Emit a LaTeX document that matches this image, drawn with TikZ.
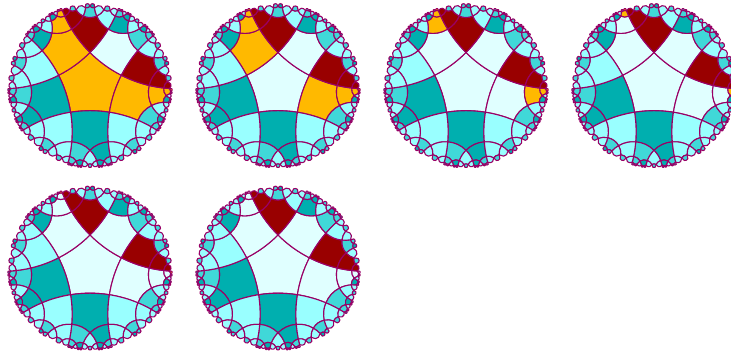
\documentclass[tikz,border=0pt]{standalone}
\usepackage{xfp}
\makeatletter
\def\R{83}
\def\Dmax{4}
\newcount\tn \tn=0
\let\mv\relax \let\cv\relax \let\tile\relax
\def\setv#1#2#3#4{\expandafter\edef\csname X@#1@#2\endcsname{#3}\expandafter\edef\csname Y@#1@#2\endcsname{#4}}
\def\gx#1#2{\csname X@#1@#2\endcsname}
\def\gy#1#2{\csname Y@#1@#2\endcsname}
% son tables: state, offset of the side from the last letter -> state of the son
\def\sontab#1#2#3{\expandafter\def\csname son@#1@#2\endcsname{#3}}
\sontab R0T\sontab R1T\sontab R2T\sontab R3T\sontab R4T
\sontab T1L\sontab T2T\sontab T3Q
\sontab L1L\sontab L2Q\sontab L3M
\sontab Q2Q\sontab Q3U
\sontab U4M\sontab U3U\sontab U2Q
\sontab M4M\sontab M3Q\sontab M2L
\def\refl#1{%
 \ifnum#1=\ei \setv{\nw}{#1}{\gx{\w}{#1}}{\gy{\w}{#1}}\else
 \ifnum#1=\ej \setv{\nw}{#1}{\gx{\w}{#1}}{\gy{\w}{#1}}\else
  \edef\zx{\gx{\w}{#1}}\edef\zy{\gy{\w}{#1}}%
  \edef\dd{\fpeval{\rr/((\zx-\cx)^2+(\zy-\cy)^2)}}%
  \setv{\nw}{#1}{\fpeval{\cx+\dd*(\zx-\cx)}}{\fpeval{\cy+\dd*(\zy-\cy)}}%
 \fi\fi}
\def\edge#1#2{%
 \def\ei{#1}\def\ej{#2}%
 \edef\ax{\gx{\w}{#1}}\edef\ay{\gy{\w}{#1}}\edef\bx{\gx{\w}{#2}}\edef\by{\gy{\w}{#2}}%
 \edef\AA{\fpeval{(\ax*\ax+\ay*\ay+1)/2}}\edef\BB{\fpeval{(\bx*\bx+\by*\by+1)/2}}%
 \edef\dt{\fpeval{\ax*\by-\ay*\bx}}%
 \edef\cx{\fpeval{(\AA*\by-\BB*\ay)/\dt}}\edef\cy{\fpeval{(\ax*\BB-\bx*\AA)/\dt}}%
 \edef\rr{\fpeval{\cx*\cx+\cy*\cy-1}}%
 \edef\mx{\fpeval{(\ax+\bx)/2}}\edef\my{\fpeval{(\ay+\by)/2}}%
 \edef\dd{\fpeval{\rr/((\mx-\cx)^2+(\my-\cy)^2)}}%
 \edef\px{\fpeval{\cx+\dd*(\mx-\cx)}}\edef\py{\fpeval{\cy+\dd*(\my-\cy)}}%
 \edef\pth{\pth\cv{\fpeval{round(\R*(\ax+2*(\px-\ax)/3),3)}}{\fpeval{round(\R*(\ay+2*(\py-\ay)/3),3)}}{\fpeval{round(\R*(\bx+2*(\px-\bx)/3),3)}}{\fpeval{round(\R*(\by+2*(\py-\by)/3),3)}}{\fpeval{round(\R*\bx,3)}}{\fpeval{round(\R*\by,3)}}}%
 \ifnum\dep<\Dmax\relax
 \edef\off{\the\numexpr#1-\lastj+5\relax}%
 \offmod
 \ifcsname son@\st @\off\endcsname
   \edef\nw{\w#1}%
   \refl0\refl1\refl2\refl3\refl4%
   \edef\nd{\the\numexpr\dep+1\relax}%
   \edef\tmp{\unexpanded\expandafter{\nxtq}\noexpand\proc{\nw}{\csname son@\st @\off\endcsname}{#1}{\nd}}%
   \let\nxtq\tmp
 \fi
 \fi}
\def\offmod{\ifnum\off>4 \edef\off{\the\numexpr\off-5\relax}\fi}
\def\proc#1#2#3#4{%
 \def\w{#1}\def\st{#2}\def\lastj{#3}\def\dep{#4}%
 \edef\pth{\mv{\fpeval{round(\R*\gx{\w}{0},3)}}{\fpeval{round(\R*\gy{\w}{0},3)}}}%
 \edge01\edge12\edge23\edge34\edge40%
 \global\advance\tn by 1
 \expandafter\xdef\csname tile@\the\tn\endcsname{\tile{#1}{#2}{\pth}}%
}
\def\initv#1{\setv{}{#1}{\fpeval{0.39797*cosd(90+72*#1)}}{\fpeval{0.39797*sind(90+72*#1)}}}
\initv0\initv1\initv2\initv3\initv4
\let\nxtq\empty
\def\curq{\proc{}{R}{0}{0}}
\def\runlevels{\ifx\curq\empty\else\let\nxtq\empty\curq\let\curq\nxtq\expandafter\runlevels\fi}
\runlevels
\def\mv#1#2{\pgfpathmoveto{\pgfqpoint{#1pt}{#2pt}}}
\def\cv#1#2#3#4#5#6{\pgfpathcurveto{\pgfqpoint{#1pt}{#2pt}}{\pgfqpoint{#3pt}{#4pt}}{\pgfqpoint{#5pt}{#6pt}}}
\definecolor{tealc}{HTML}{00AFAF}
\definecolor{turqc}{HTML}{40D8D8}
\definecolor{aquac}{HTML}{99FFFF}
\definecolor{palec}{HTML}{E0FFFF}
\definecolor{redc}{HTML}{990000}
\definecolor{orangec}{HTML}{FFB900}
\definecolor{linec}{HTML}{990066}
\def\basecol#1#2{\expandafter\def\csname col@#1\endcsname{#2}}
\basecol R{palec}\basecol T{tealc}\basecol U{tealc}\basecol Q{turqc}\basecol L{aquac}\basecol M{aquac}
\def\chn#1#2{\expandafter\def\csname ch@#1\endcsname{#2}}
\chn{}{0}\chn{0}{1}\chn{3}{1}\chn{03}{2}\chn{30}{2}\chn{030}{3}\chn{303}{3}\chn{0303}{4}\chn{3030}{4}
\def\rdd#1{\expandafter\def\csname rd@#1\endcsname{1}}
\rdd{40}\rdd{403}\rdd{4030}\rdd{34}\rdd{340}\rdd{3403}
\expandafter\def\csname wh@4\endcsname{1}
\def\pickcol#1#2{%
 \ifcsname ch@#1\endcsname
   \ifnum\csname ch@#1\endcsname<\numexpr\panelno-1\relax \def\curcol{palec}\else \def\curcol{orangec}\fi
 \else\ifcsname rd@#1\endcsname \def\curcol{redc}%
 \else\ifcsname wh@#1\endcsname \def\curcol{palec}%
 \else \edef\curcol{\csname col@#2\endcsname}\fi\fi\fi}
\def\tile#1#2#3{\begin{pgfscope}\pickcol{#1}{#2}\pgfsetfillcolor{\curcol}#3\pgfpathclose\pgfusepath{fill,stroke}\end{pgfscope}}
\newcount\ti
\def\drawall#1{\def\panelno{#1}\ti=0 \loop\ifnum\ti<\tn \advance\ti by 1 \csname tile@\the\ti\endcsname\repeat}
\makeatother
\begin{document}
\begin{tikzpicture}
\useasboundingbox (0pt,0pt) rectangle (731pt,354pt);
\fill[white] (0pt,0pt) rectangle (731pt,354pt);
\pgfsetlinewidth{1.1pt}
\pgfsetroundjoin
\pgfsetstrokecolor{linec}
\begin{scope}[shift={(90pt,268.5pt)}]\drawall{1}\end{scope}
\begin{scope}[shift={(278pt,268.5pt)}]\drawall{2}\end{scope}
\begin{scope}[shift={(466pt,268.5pt)}]\drawall{3}\end{scope}
\begin{scope}[shift={(654pt,268.5pt)}]\drawall{4}\end{scope}
\begin{scope}[shift={(90pt,86pt)}]\drawall{5}\end{scope}
\begin{scope}[shift={(278pt,86pt)}]\drawall{6}\end{scope}
\end{tikzpicture}
\end{document}
